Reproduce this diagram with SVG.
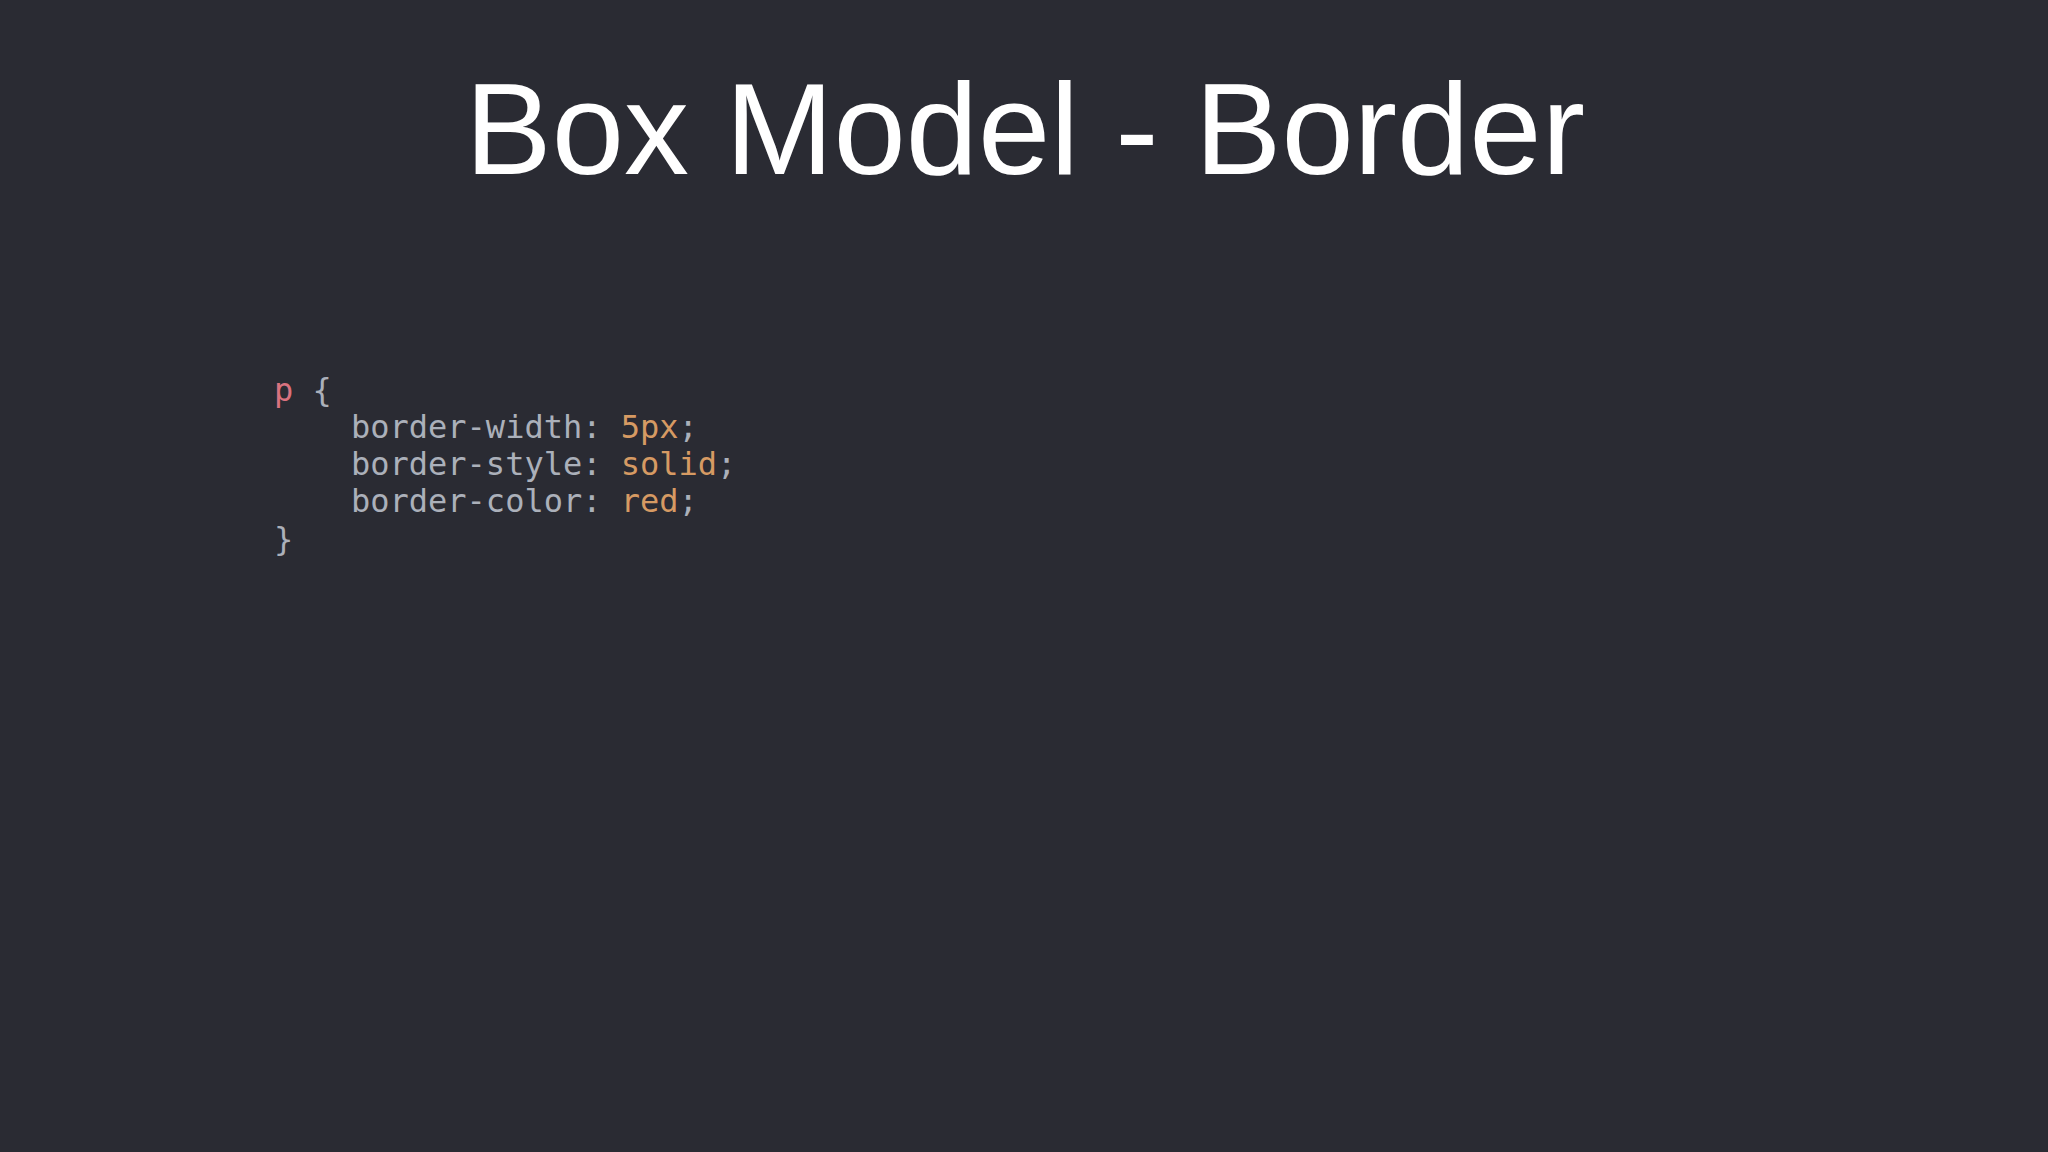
<svg xmlns="http://www.w3.org/2000/svg" width="2048" height="1152" viewBox="0 0 2048 1152">
<style>
.t{font-family:"Liberation Sans",Arial,sans-serif;font-size:130px;fill:#ffffff}
.c{font-family:"DejaVu Sans Mono",monospace;font-size:32px;fill:#abb0ba}
.k{fill:#d9727f}.v{fill:#d69a63}
</style>
<rect width="2048" height="1152" fill="#2a2b33"/>
<g id="title"><text class="t" x="1025" y="174" text-anchor="middle">Box Model - Border</text></g>
<g id="code">
<text class="c" x="274" y="401" xml:space="preserve"><tspan class="k">p</tspan> {</text>
<text class="c" x="351" y="438">border-width: <tspan class="v">5px</tspan>;</text>
<text class="c" x="351" y="475">border-style: <tspan class="v">solid</tspan>;</text>
<text class="c" x="351" y="512">border-color: <tspan class="v">red</tspan>;</text>
<text class="c" x="274" y="550">}</text>
</g>
</svg>
